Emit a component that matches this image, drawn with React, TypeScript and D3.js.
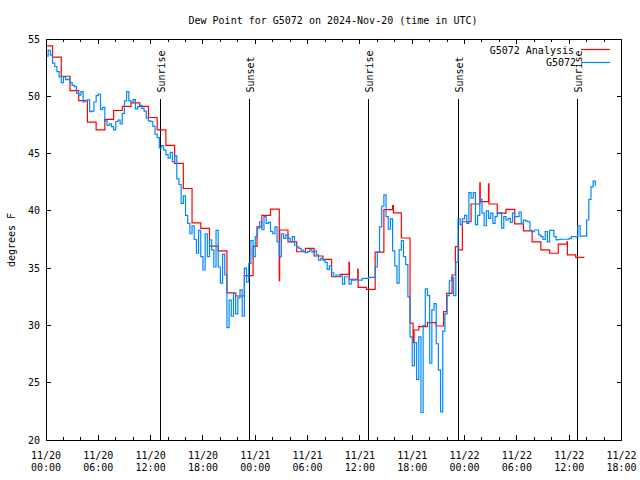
import React from 'react';
import * as d3 from 'd3';

const startTime = Date.UTC(2024, 10, 20, 0, 0);
const endTime = Date.UTC(2024, 10, 22, 18, 0);

// analysis (red): hours after 11/20 00:00 UTC where each step begins, and its value (deg F)
const analysisHours = [
  0, 0.75, 1.75, 2.75, 3.75, 4.75, 5.75, 6.75, 7.75, 8.75, 9.75, 10.75, 11.75, 12.75, 13.75,
  14.75, 15.75, 16.75, 17.75, 18.75, 19.75, 20.75, 21.75, 22.75, 23.75, 24.2, 24.75, 25.75,
  26.75, 26.8, 27.75, 28.75, 29.75, 30.75, 31.75, 32.75, 33.75, 34.75, 34.8, 35.75, 35.8,
  36.75, 37.75, 38.75, 39.75, 39.85, 40.75, 41.75, 42.1, 42.2, 42.75, 43.75, 44.75, 45.6,
  45.95, 46.57, 46.95, 47.33, 47.75, 48.75, 49.75, 49.8, 50.75, 50.8, 51.75, 52.75, 53.75,
  54.75, 55.75, 56.75, 57.75, 58.75, 59.75, 59.8, 60.75, 61.75,
];
const analysisValues = [
  54.4, 53.42, 51.75, 50.5, 49.62, 47.75, 47.06, 47.99, 48.76, 49.12, 49.42, 49.12, 48.15, 47.06,
  45.72, 44.15, 41.95, 38.95, 38.47, 36.93, 36.5, 32.85, 32.57, 34.35, 36.9, 38.6, 39.6, 40.15,
  33.9, 38.33, 37.3, 36.43, 36.73, 36.06, 35.77, 34.25, 34.46, 35.5, 34.03, 34.92, 33.33,
  33.15, 36.4, 40.1, 40.45, 39.82, 37.63, 30.2, 28.5, 29.6, 29.9, 30.25, 29.95, 31.2,
  32.8, 34.4, 36.87, 36.6, 39.05, 40.6, 42.45, 40.8, 42.35, 40.6, 39.8, 40.13, 38.87,
  38.25, 37.3, 36.6, 36.3, 37.1, 37.3, 36.15, 35.94, 35.94,
];

// station obs (blue): one value every 15 minutes from 11/20 00:00 UTC
const obsStepHours = 0.25;
const obsValues = [
  53.5, 54.0, 53.6, 52.9, 52.6, 52.15, 51.7, 51.2, 51.7, 51.45, 51.5, 51.2,
  50.95, 50.84, 50.26, 50.11, 50.4, 49.5, 49.65, 49.68, 48.66, 48.7, 49.5, 50.05,
  50.2, 48.85, 49.04, 47.85, 47.45, 47.6, 47.35, 47.06, 47.8, 47.93, 47.58, 48.5,
  49.6, 50.4, 49.6, 49.5, 49.7, 48.9, 49.1, 49.2, 48.95, 48.7, 48.1, 47.85,
  47.8, 47.4, 46.7, 46.4, 45.5, 45.7, 45.3, 44.9, 44.6, 45.1, 44.3, 44.8,
  42.8, 42.3, 40.65, 41.3, 39.6, 38.9, 38.0, 38.7, 37.5, 36.3, 38.3, 36.0,
  34.84, 38.0, 36.0, 37.46, 36.6, 35.1, 38.3, 35.1, 33.7, 36.2, 34.4, 29.8,
  32.2, 30.8, 32.8, 31.0, 32.4, 33.1, 30.8, 35.0, 33.8, 35.4, 37.4, 36.0,
  37.75, 38.5, 39.05, 38.35, 39.5, 38.9, 39.0, 38.2, 38.0, 38.6, 37.3, 36.0,
  38.0, 37.6, 37.9, 37.6, 37.3, 37.75, 37.0, 36.85, 36.73, 36.58, 36.43, 36.35,
  36.45, 36.6, 36.4, 36.5, 36.15, 35.7, 35.85, 35.7, 35.5, 34.9, 35.2, 34.6,
  34.25, 34.4, 34.4, 34.3, 33.6, 34.25, 34.25, 33.6, 33.96, 33.96, 34.0, 33.96,
  33.96, 34.1, 34.11, 34.1, 34.2, 34.2, 34.2, 35.1, 36.4, 38.6, 40.4, 41.4,
  39.5, 38.4, 39.3, 36.5, 35.2, 33.7, 36.6, 37.4, 36.0, 35.3, 32.5, 29.0,
  26.5, 28.5, 25.3, 29.0, 22.4, 30.0, 33.2, 32.6, 26.7, 31.35, 31.9, 28.4,
  26.1, 22.45, 29.5, 31.0, 32.6, 33.9, 34.2, 32.6, 35.5, 39.3, 38.8, 39.3,
  39.6, 38.9, 41.6, 41.1, 41.6, 38.8, 39.6, 41.0, 39.8, 38.7, 40.0, 39.35,
  39.8, 38.9, 39.5, 39.8, 39.85, 38.5, 39.5, 39.2, 39.35, 39.0, 39.8, 39.5,
  39.5, 39.9, 38.9, 39.2, 39.1, 39.05, 38.3, 38.18, 38.33, 38.33, 37.9, 37.75,
  37.5, 38.2, 37.3, 38.3, 38.3, 37.75, 37.46, 37.5, 37.52, 37.52, 37.52, 37.52,
  37.6, 37.75, 37.75, 37.75, 38.7, 37.8, 37.8, 37.8, 39.2, 41.0, 42.1, 42.6,
  42.2,
];

const sunHours = [13.08, 23.3, 36.96, 47.29, 60.95];
const sunLabels = ['Sunrise', 'Sunset', 'Sunrise', 'Sunset', 'Sunrise'];

const yTicks = [20, 25, 30, 35, 40, 45, 50, 55];

const FONT = '"DejaVu Sans Mono", monospace';
const RED = '#ff0000';
const BLUE = '#0088ff';

export default function App() {
  const left = 46;
  const right = 621.5;
  const top = 39;
  const bottom = 440;

  const x = d3.scaleUtc().domain([new Date(startTime), new Date(endTime)]).range([left, right]);
  const y = d3.scaleLinear().domain([20, 55]).range([bottom, top]);
  const toDate = (h: number) => new Date(startTime + h * 3600e3);

  const line = d3
    .line<[number, number]>()
    .x((d) => x(toDate(d[0])))
    .y((d) => y(d[1]))
    .curve(d3.curveStepAfter);

  const analysisPts = analysisHours.map((h, i) => [h, analysisValues[i]] as [number, number]);
  const obsPts = obsValues.map((v, i) => [i * obsStepHours, v] as [number, number]);

  const majorTicks = x.ticks(d3.utcHour.every(6)!);
  const minorTicks = x.ticks(d3.utcHour.every(2)!);
  const fmtDay = d3.utcFormat('%m/%d');
  const fmtTime = d3.utcFormat('%H:%M');

  return (
    <svg
      width={640}
      height={480}
      style={{ position: 'absolute', left: 0, top: 0, background: '#fff' }}
      fontFamily={FONT}
      fontSize={10}
    >
      <defs>
        <clipPath id="plot">
          <rect x={left} y={top} width={right - left} height={bottom - top} />
        </clipPath>
      </defs>

      <text x={333} y={23.5} textAnchor="middle" fill="#000">
        Dew Point for G5072 on 2024-Nov-20 (time in UTC)
      </text>
      <text transform={`translate(14.5,240) rotate(-90)`} textAnchor="middle" fill="#000">
        degrees F
      </text>

      {/* ticks */}
      <g stroke="#000" strokeWidth={1} shapeRendering="crispEdges">
        {minorTicks.map((t, i) => (
          <g key={'m' + i}>
            <line x1={x(t)} x2={x(t)} y1={bottom} y2={bottom - 3} />
            <line x1={x(t)} x2={x(t)} y1={top} y2={top + 3} />
          </g>
        ))}
        {majorTicks.map((t, i) => (
          <g key={'M' + i}>
            <line x1={x(t)} x2={x(t)} y1={bottom} y2={bottom - 5} />
            <line x1={x(t)} x2={x(t)} y1={top} y2={top + 5} />
          </g>
        ))}
        {yTicks.map((v) => (
          <g key={'y' + v}>
            <line x1={left} x2={left + 5} y1={y(v)} y2={y(v)} />
            <line x1={right} x2={right - 5} y1={y(v)} y2={y(v)} />
          </g>
        ))}
      </g>

      {yTicks.map((v) => (
        <text key={'yl' + v} x={40} y={y(v) + 3.5} textAnchor="end" fill="#000">
          {v}
        </text>
      ))}
      {majorTicks.map((t, i) => (
        <text key={'xl' + i} x={x(t)} textAnchor="middle" fill="#000">
          <tspan x={x(t)} y={458.5}>{fmtDay(t)}</tspan>
          <tspan x={x(t)} y={470.5}>{fmtTime(t)}</tspan>
        </text>
      ))}

      {/* sunrise / sunset markers */}
      {sunHours.map((h, i) => {
        const sx = Math.round(x(toDate(h))) + 0.5;
        return (
          <g key={'s' + i}>
            <line x1={sx} x2={sx} y1={99} y2={bottom} stroke="#000" strokeWidth={1} />
            <text
              transform={`translate(${sx + 4},92.5) rotate(-90)`}
              textAnchor="start"
              fill="#000"
            >
              {sunLabels[i]}
            </text>
          </g>
        );
      })}

      <g clipPath="url(#plot)" fill="none" strokeWidth={1.2}>
        <path d={line(analysisPts) ?? ''} stroke={RED} />
        <path d={line(obsPts) ?? ''} stroke={BLUE} />
      </g>

      <rect
        x={left}
        y={top}
        width={right - left}
        height={bottom - top}
        fill="none"
        stroke="#000"
        strokeWidth={1}
        shapeRendering="crispEdges"
      />

      {/* legend */}
      <text x={574} y={53.5} textAnchor="end" fill="#000">G5072 Analysis</text>
      <line x1={581} x2={610} y1={49.5} y2={49.5} stroke={RED} strokeWidth={1.2} />
      <text x={576} y={66} textAnchor="end" fill="#000">G5072</text>
      <line x1={581} x2={610} y1={62.5} y2={62.5} stroke={BLUE} strokeWidth={1.2} />
    </svg>
  );
}
